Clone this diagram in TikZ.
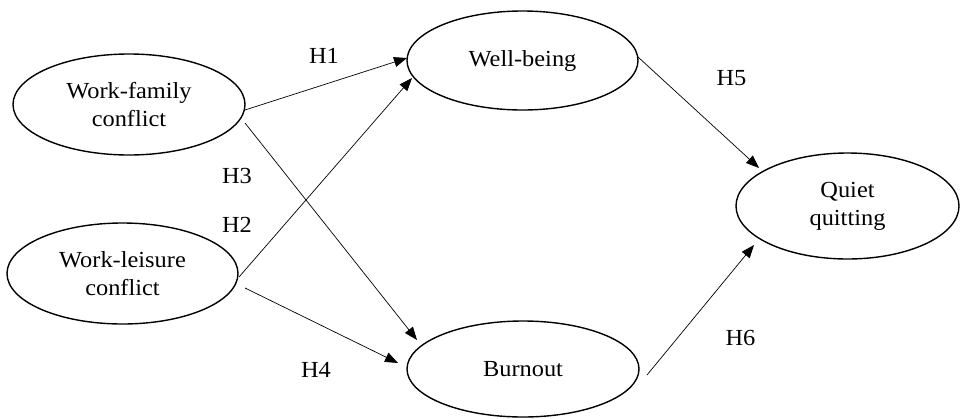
\documentclass[tikz,border=0pt]{standalone}
\usepackage{fontspec}
\setmainfont{Liberation Serif}[FakeStretch=1.06]
\usetikzlibrary{shapes.geometric,arrows.meta,calc}
\begin{document}
\begin{tikzpicture}[x=1pt,y=-1pt,
  every node/.style={font=\fontsize{23}{28}\selectfont},
  construct/.style={ellipse,draw,line width=1.4pt,align=center,inner sep=0pt},
  hyp/.style={inner sep=0pt},
  link/.style={line width=0.7pt,-{Triangle[length=13pt,width=10pt]}}]
\useasboundingbox (0,0) rectangle (960,418);
\node[construct,minimum width=232pt,minimum height=101pt] (wf) at (129,104.5) {Work-family\\conflict};
\node[construct,minimum width=231pt,minimum height=101pt] (wl) at (122.5,273.5) {Work-leisure\\conflict};
\node[construct,minimum width=231pt,minimum height=99pt] (wb) at (522.5,60.5) {Well-being};
\node[construct,minimum width=232pt,minimum height=96pt] (bo) at (523,369) {Burnout};
\node[construct,minimum width=223pt,minimum height=106pt] (qq) at (847.5,206) {Quiet\\quitting};
\node[hyp] (h1) at (324,56) {H1};
\node[hyp] (h3) at (237,176) {H3};
\node[hyp] (h2) at (237,224.5) {H2};
\node[hyp] (h4) at (316,370) {H4};
\node[hyp] (h5) at (731.5,78) {H5};
\node[hyp] (h6) at (740.5,337.5) {H6};
\draw[link] ($(wf.center)+(116,5.5)$) -- ($(wb.center)+(-115.5,-2.5)$);
\draw[link] ($(wl.center)+(116.5,3.5)$) -- ($(wb.center)+(-110.5,17.5)$);
\draw[link] ($(wf.center)+(116,18.5)$) -- ($(bo.center)+(-106,-29)$);
\draw[link] ($(wl.center)+(122.5,14.5)$) -- ($(bo.center)+(-125,-6)$);
\draw[link] ($(wb.center)+(115.5,-3.5)$) -- ($(qq.center)+(-88.5,-38)$);
\draw[link] ($(bo.center)+(124,6)$) -- ($(qq.center)+(-93.5,39)$);
\end{tikzpicture}
\end{document}
